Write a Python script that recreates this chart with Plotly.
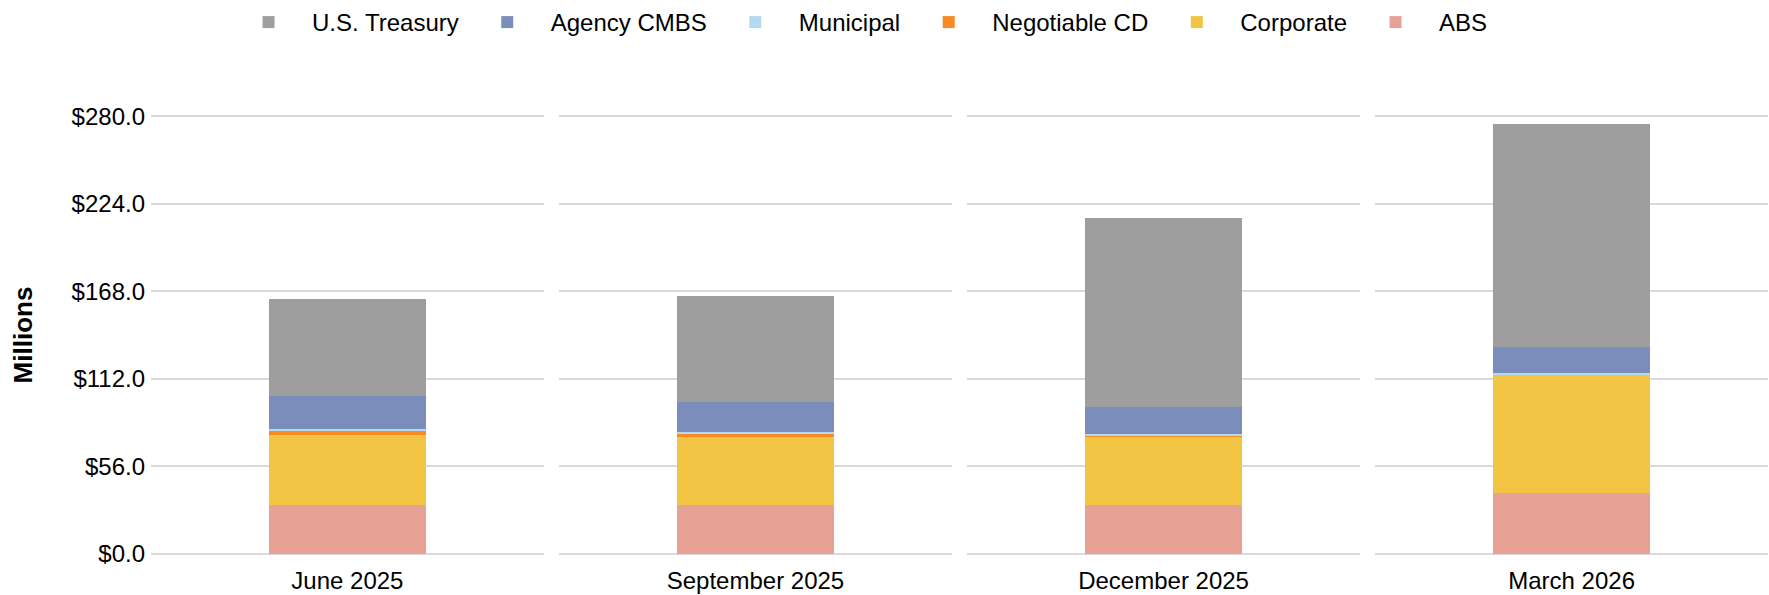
import plotly.graph_objects as go
from plotly.subplots import make_subplots

months = ["June 2025", "September 2025", "December 2025", "March 2026"]

series_names = ["ABS", "Corporate", "Negotiable CD", "Municipal", "Agency CMBS", "U.S. Treasury"]
abs_vals = [31.4, 31.4, 31.4, 38.8]
corporate_vals = [44.8, 43.6, 43.3, 75.8]
negotiable_cd_vals = [2.7, 1.8, 1.2, 0.0]
municipal_vals = [1.1, 1.0, 1.0, 1.2]
agency_cmbs_vals = [20.7, 19.2, 16.8, 16.8]
treasury_vals = [62.3, 67.7, 121.2, 142.6]

values = {
    "ABS": abs_vals,
    "Corporate": corporate_vals,
    "Negotiable CD": negotiable_cd_vals,
    "Municipal": municipal_vals,
    "Agency CMBS": agency_cmbs_vals,
    "U.S. Treasury": treasury_vals,
}
colors = {
    "U.S. Treasury": "#9e9e9e",
    "Agency CMBS": "#7b8dba",
    "Municipal": "#b4daf3",
    "Negotiable CD": "#f88a24",
    "Corporate": "#f2c443",
    "ABS": "#e7a295",
}
legend_rank = {
    "U.S. Treasury": 1,
    "Agency CMBS": 2,
    "Municipal": 3,
    "Negotiable CD": 4,
    "Corporate": 5,
    "ABS": 6,
}
y_ticks = [0, 56, 112, 168, 224, 280]
y_tick_labels = ["$0.0", "$56.0", "$112.0", "$168.0", "$224.0", "$280.0"]

FONT = "Liberation Sans, Arial, sans-serif"
W, H = 1769, 595
PLOT_TOP, PLOT_BOTTOM = 116, 554  # pixel rows of the $280 and $0 gridlines
Y_LO, Y_HI = -1.5, 281.5
ppu = (PLOT_BOTTOM - PLOT_TOP) / (y_ticks[-1] - y_ticks[0])
ML, MR = 151, 1
MT = PLOT_TOP - (Y_HI - y_ticks[-1]) * ppu
MB = H - PLOT_BOTTOM - (y_ticks[0] - Y_LO) * ppu

fig = make_subplots(rows=1, cols=4, shared_yaxes=True, horizontal_spacing=0.0)

for name in series_names:
    for i, m in enumerate(months):
        fig.add_trace(
            go.Bar(
                x=[m],
                y=[values[name][i]],
                name=name,
                marker=dict(color=colors[name], line=dict(width=0)),
                width=0.4,
                legendgroup=name,
                legendrank=legend_rank[name],
                showlegend=(i == 0),
                hovertemplate=name + ": $%{y:.1f}M<extra></extra>",
            ),
            row=1,
            col=i + 1,
        )

gap = 15.3 / (W - ML - MR)
pw = (1 - 3 * gap) / 4
for i in range(4):
    start = i * (pw + gap)
    xa = "xaxis" if i == 0 else f"xaxis{i + 1}"
    ya = "yaxis" if i == 0 else f"yaxis{i + 1}"
    fig.layout[xa].update(
        domain=[start, start + pw],
        range=[-0.5, 0.5],
        showgrid=False,
        showline=False,
        zeroline=False,
        ticks="",
        automargin=False,
        ticklabelstandoff=8,
        tickfont=dict(family=FONT, size=24, color="#000000"),
    )
    fig.layout[ya].update(
        range=[Y_LO, Y_HI],
        tickvals=y_ticks,
        ticktext=y_tick_labels,
        showgrid=True,
        gridcolor="#d9d9d9",
        gridwidth=2,
        zeroline=False,
        showline=False,
        ticks="",
        automargin=False,
        showticklabels=(i == 0),
        ticklabelstandoff=5,
        tickfont=dict(family=FONT, size=24, color="#000000"),
    )

fig.update_yaxes(
    title=dict(text="<b>Millions</b>", font=dict(family=FONT, size=26, color="#000000"), standoff=31),
    row=1, col=1,
)

fig.update_layout(
    barmode="stack",
    width=W,
    height=H,
    margin=dict(l=ML, r=MR, t=MT, b=MB),
    plot_bgcolor="#ffffff",
    paper_bgcolor="#ffffff",
    font=dict(family=FONT, size=24, color="#000000"),
    legend=dict(
        orientation="h",
        x=0.4856,
        xref="container",
        xanchor="center",
        y=1.0,
        yref="container",
        yanchor="top",
        font=dict(family=FONT, size=24, color="#000000"),
        itemwidth=77,
        traceorder="normal",
    ),
)

fig.write_html(
    "out.html",
    config={"displayModeBar": False},
    post_script="document.body.style.margin='0';document.body.style.overflow='hidden';",
)
